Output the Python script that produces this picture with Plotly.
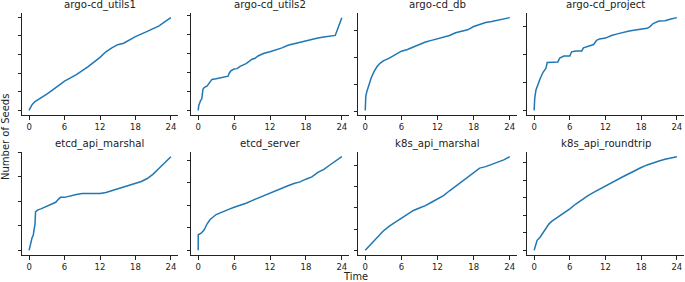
import plotly.graph_objects as go

W, H = 685, 282

titles = ["argo-cd_utils1", "argo-cd_utils2", "argo-cd_db", "argo-cd_project",
          "etcd_api_marshal", "etcd_server", "k8s_api_marshal", "k8s_api_roundtrip"]

x_utils1 = [0, 0.5, 1, 2, 3, 4, 6, 8, 10, 12, 13, 14, 15, 16, 17, 18, 20, 22, 23, 24]
y_utils1 = [0, 0.3, 0.47, 0.66, 0.87, 1.1, 1.57, 1.92, 2.35, 2.84, 3.14, 3.35, 3.52, 3.6, 3.78, 3.95, 4.23, 4.53, 4.75, 4.97]

x_utils2 = [0, 0.1, 0.4, 0.6, 0.8, 1.0, 1.5, 2.0, 2.3, 3, 4, 5, 5.2, 5.5, 6, 6.5, 7, 8, 9, 9.5, 10, 11, 12, 13, 14, 15, 16, 17, 18, 19, 20, 21, 22, 22.9, 23.3, 23.7, 24]
y_utils2 = [0, 0.26, 0.52, 0.60, 1.12, 1.21, 1.29, 1.55, 1.64, 1.67, 1.74, 1.81, 1.98, 2.10, 2.19, 2.21, 2.33, 2.47, 2.71, 2.76, 2.88, 3.02, 3.10, 3.19, 3.31, 3.45, 3.53, 3.60, 3.71, 3.76, 3.83, 3.88, 3.91, 3.97, 4.31, 4.66, 4.91]

x_db = [0, 0.1, 0.3, 0.5, 1, 1.5, 2, 2.5, 3, 4, 5, 6, 7, 8, 9, 10, 11, 12, 13, 14, 15, 16, 17, 18, 19, 20, 21, 22, 23, 24]
y_db = [0.06, 0.60, 0.78, 0.94, 1.27, 1.51, 1.69, 1.81, 1.89, 1.99, 2.11, 2.25, 2.31, 2.41, 2.51, 2.59, 2.65, 2.71, 2.77, 2.83, 2.93, 2.99, 3.04, 3.16, 3.23, 3.31, 3.35, 3.40, 3.43, 3.49]

x_project = [0, 0.1, 0.3, 0.6, 1, 1.5, 2, 2.2, 3, 4, 4.3, 5, 6, 6.3, 7, 8, 8.3, 9, 10, 10.5, 11, 12, 13, 14, 15, 16, 17, 18, 19, 19.5, 20, 21, 22, 23, 24]
y_project = [0, 0.43, 0.72, 0.90, 1.13, 1.36, 1.51, 1.71, 1.71, 1.73, 1.87, 1.94, 1.94, 2.09, 2.12, 2.12, 2.23, 2.29, 2.35, 2.50, 2.55, 2.58, 2.67, 2.73, 2.79, 2.83, 2.87, 2.90, 2.93, 2.99, 3.10, 3.19, 3.20, 3.26, 3.31]

x_marshal = [0, 0.2, 0.4, 0.5, 0.7, 1.0, 1.1, 1.5, 2, 3, 4, 4.5, 5, 5.3, 6, 7, 8, 9, 10, 11, 12, 13, 14, 15, 16, 17, 18, 19, 20, 21, 22, 23, 24]
y_marshal = [0, 0.27, 0.41, 0.51, 0.61, 1.08, 1.58, 1.65, 1.69, 1.80, 1.92, 1.96, 2.09, 2.16, 2.16, 2.23, 2.28, 2.32, 2.32, 2.32, 2.32, 2.36, 2.43, 2.53, 2.57, 2.66, 2.73, 2.81, 2.93, 3.11, 3.35, 3.58, 3.82]

x_server = [0, 0.01, 0.5, 1.0, 1.5, 2, 3, 4, 5, 6, 7, 8, 9, 10, 11, 12, 13, 14, 15, 16, 17, 18, 19, 20, 21, 22, 23, 24]
y_server = [0, 0.69, 0.76, 0.91, 1.18, 1.37, 1.59, 1.71, 1.81, 1.91, 1.99, 2.09, 2.21, 2.32, 2.46, 2.54, 2.65, 2.76, 2.87, 2.97, 3.04, 3.16, 3.26, 3.46, 3.60, 3.79, 3.97, 4.16]

x_k8s_marshal = [0, 1, 2, 3, 4, 5, 6, 7, 8, 9, 10, 11, 12, 13, 14, 15, 16, 17, 18, 19, 20, 21, 22, 23, 24]
y_k8s_marshal = [0, 0.31, 0.63, 0.91, 1.14, 1.33, 1.52, 1.72, 1.88, 2.0, 2.11, 2.27, 2.42, 2.58, 2.81, 3.02, 3.25, 3.47, 3.67, 3.88, 3.95, 4.06, 4.14, 4.27, 4.42]

x_roundtrip = [0, 0.5, 1, 2, 2.5, 3, 4, 5, 6, 7, 8, 9, 10, 11, 12, 13, 14, 15, 16, 17, 18, 19, 20, 21, 22, 23, 24]
y_roundtrip = [0, 0.57, 0.75, 1.23, 1.51, 1.66, 1.89, 2.11, 2.36, 2.64, 2.89, 3.11, 3.30, 3.49, 3.68, 3.87, 4.04, 4.21, 4.38, 4.57, 4.72, 4.87, 5.0, 5.09, 5.19, 5.28, 5.34]

x_ticks = [0, 6, 12, 18, 24]

series = [(x_utils1, y_utils1), (x_utils2, y_utils2), (x_db, y_db), (x_project, y_project),
          (x_marshal, y_marshal), (x_server, y_server), (x_k8s_marshal, y_k8s_marshal),
          (x_roundtrip, y_roundtrip)]

col_px = [(22, 178), (191, 349), (358, 517), (527, 684)]
row_px = [(13, 115), (152, 255)]

fig = go.Figure()
annotations = []
font_family = "DejaVu Sans, sans-serif"
for i, (xs, ys) in enumerate(series):
    r, c = divmod(i, 4)
    n = i + 1
    xa = "x" if n == 1 else f"x{n}"
    ya = "y" if n == 1 else f"y{n}"
    fig.add_trace(go.Scatter(x=xs, y=ys, mode="lines", xaxis=xa, yaxis=ya,
                             line=dict(color="#1f77b4", width=1.5), showlegend=False,
                             hoverinfo="skip"))
    x0, x1 = col_px[c]
    y0, y1 = row_px[r]
    dom_x = [x0 / W, x1 / W]
    dom_y = [1 - y1 / H, 1 - y0 / H]
    ymin, ymax = min(ys), max(ys)
    span = ymax - ymin
    axis_common = dict(showgrid=False, zeroline=False, showline=True, linecolor="#222",
                       linewidth=1, ticks="outside", ticklen=3.5, tickwidth=0.8,
                       tickcolor="#222")
    fig.layout[f"xaxis{'' if n == 1 else n}"] = dict(
        domain=dom_x, anchor=ya, range=[-1.2, 25.2], tickvals=x_ticks,
        ticklabeloverflow="allow",
        tickfont=dict(size=8.5, color="#222", family=font_family), **axis_common)
    fig.layout[f"yaxis{'' if n == 1 else n}"] = dict(
        domain=dom_y, anchor=xa, range=[ymin - 0.05 * span, ymax + 0.05 * span],
        tick0=0, dtick=1, showticklabels=False, **axis_common)
    annotations.append(dict(text=titles[i], x=(x0 + x1) / 2 / W, y=dom_y[1] + 8 / H,
                            xref="paper", yref="paper", xanchor="center", yanchor="middle",
                            showarrow=False,
                            font=dict(size=10.2, color="#222", family=font_family)))

annotations.append(dict(text="Time", x=355 / W, y=1 - 276.5 / H, xref="paper", yref="paper",
                        xanchor="center", yanchor="middle", showarrow=False,
                        font=dict(size=9.8, color="#222", family=font_family)))
annotations.append(dict(text="Number of Seeds", x=5.5 / W, y=1 - 137.5 / H, xref="paper",
                        yref="paper", xanchor="center", yanchor="middle", showarrow=False,
                        textangle=-90,
                        font=dict(size=10, color="#222", family=font_family)))

fig.update_layout(width=W, height=H, margin=dict(l=0, r=0, t=0, b=0),
                  paper_bgcolor="white", plot_bgcolor="white", annotations=annotations,
                  font=dict(family=font_family))

fig.write_html("out.html", config={"displayModeBar": False},
               post_script="document.body.style.margin='0';document.body.style.overflow='hidden';")
